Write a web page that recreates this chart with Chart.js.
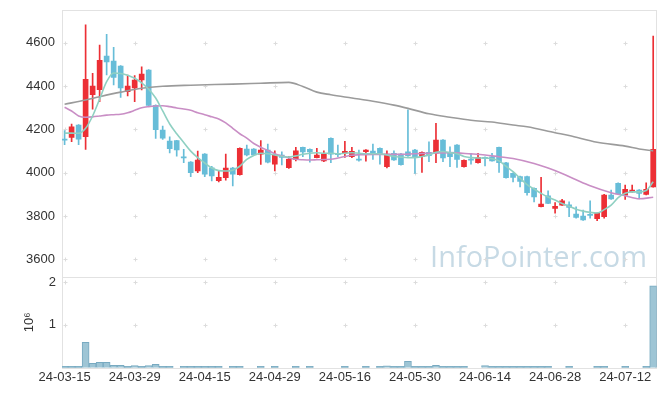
<!DOCTYPE html>
<html>
<head>
<meta charset="utf-8">
<script src="https://cdn.jsdelivr.net/npm/chart.js@4.4.1/dist/chart.umd.min.js"></script>
<style>
  html, body { margin: 0; padding: 0; background: #fff; }
  #wrap { position: relative; width: 665px; height: 396px; }
  #wrap canvas { position: absolute; left: 0; top: 0; }
</style>
</head>
<body>
<div id="wrap">
  <canvas id="price" width="665" height="396"></canvas>
  <canvas id="volume" width="665" height="396"></canvas>
</div>
<script>
// trading days, one candle each
const dates = [
  "24-03-15","24-03-18","24-03-19","24-03-20","24-03-21","24-03-22","24-03-25","24-03-26","24-03-27","24-03-28",
  "24-03-29","24-04-01","24-04-02","24-04-03","24-04-04","24-04-05","24-04-08","24-04-09","24-04-11","24-04-12",
  "24-04-15","24-04-16","24-04-17","24-04-18","24-04-19","24-04-22","24-04-23","24-04-24","24-04-25","24-04-26",
  "24-04-29","24-04-30","24-05-02","24-05-03","24-05-07","24-05-08","24-05-09","24-05-10","24-05-13","24-05-14",
  "24-05-16","24-05-17","24-05-20","24-05-21","24-05-22","24-05-23","24-05-24","24-05-27","24-05-28","24-05-29",
  "24-05-30","24-05-31","24-06-03","24-06-04","24-06-05","24-06-07","24-06-10","24-06-11","24-06-12","24-06-13",
  "24-06-14","24-06-17","24-06-18","24-06-19","24-06-20","24-06-21","24-06-24","24-06-25","24-06-26","24-06-27",
  "24-06-28","24-07-01","24-07-02","24-07-03","24-07-04","24-07-05","24-07-08","24-07-09","24-07-10","24-07-11",
  "24-07-12","24-07-15","24-07-16","24-07-17","24-07-18"
];

const openP = [
  4155,4163,4220,4166,4360,4383,4538,4515,4492,4374, 4392,4428,4474,4311,4197,4146,4148,4073,4049,4009,
  4086,4023,3963,3977,4022,3991,4109,4109,4086,4105, 4040,4082,4023,4062,4117,4108,4070,4055,4159,4090,
  4090,4074,4062,4097,4100,4113,4028,4090,4086,4097, 4105,4074,4094,4090,4151,4094,4128,4028,4062,4046,
  4070,4074,4117,4046,3997,3982,3982,3928,3843,3893, 3836,3851,3852,3809,3800,3808,3788,3797,3897,3951,
  3897,3912,3920,3900,3935
];
const highP = [
  4195,4225,4222,4682,4459,4589,4639,4579,4495,4451, 4448,4489,4476,4313,4215,4166,4150,4108,4052,4100,
  4088,4030,4008,4086,4025,4115,4128,4111,4148,4132, 4101,4097,4075,4117,4119,4110,4113,4101,4161,4128,
  4145,4117,4105,4107,4132,4115,4101,4101,4090,4290, 4108,4097,4143,4228,4153,4120,4130,4060,4090,4090,
  4074,4090,4119,4048,4000,3985,3985,3930,3979,3917, 3862,3877,3866,3843,3828,3870,3815,3900,3920,3953,
  3943,3943,3922,3954,4631
];
const lowP = [
  4130,4143,4130,4108,4293,4328,4451,4405,4348,4354, 4328,4382,4309,4159,4154,4092,4077,4046,3982,4000,
  3982,3962,3958,3966,3939,3989,4078,4080,4039,4045, 4009,4036,4020,4055,4074,4049,4068,4051,4046,4074,
  4071,4070,4053,4054,4062,4040,4022,4057,4035,4075, 3997,4002,4051,4046,4051,4028,4025,4026,4040,4044,
  4031,4053,4002,3975,3958,3935,3897,3866,3842,3857, 3813,3849,3797,3790,3780,3790,3779,3790,3877,3900,
  3877,3910,3879,3898,3933
];
const closeP = [
  4150,4212,4155,4431,4400,4519,4512,4440,4391,4400, 4428,4455,4311,4199,4160,4111,4105,4069,4000,4059,
  3994,3985,3979,4022,3993,4113,4082,4082,4105,4049, 4082,4071,4062,4101,4096,4096,4082,4086,4086,4083,
  4099,4099,4058,4105,4088,4085,4086,4059,4037,4079, 4074,4094,4079,4151,4069,4074,4062,4057,4058,4071,
  4066,4055,4046,3977,3979,3960,3908,3889,3856,3859, 3845,3870,3840,3794,3782,3803,3813,3897,3879,3902,
  3923,3920,3905,3923,4108
];
const volume = [
  30000,30000,30000,595000,100000,127000,127000,55000,55000,30000, 50000,30000,50000,80000,30000,30000,0,30000,30000,30000,
  30000,30000,30000,0,30000,30000,0,0,30000,0, 30000,0,0,30000,0,30000,0,0,0,0,
  30000,0,0,30000,0,30000,45000,30000,30000,150000, 30000,30000,30000,55000,30000,30000,30000,30000,0,0,
  50000,30000,30000,30000,30000,30000,30000,30000,30000,30000, 0,0,30000,0,0,0,30000,30000,0,0,
  30000,0,0,30000,1913000
];

// moving averages: [index, value]
const ma5 = [
  [0,4183],[1,4183],[2,4182],[3,4205],[4,4262],[5,4340],[6,4420],[7,4460],[8,4458],[9,4450],
  [10,4436],[11,4415],[12,4385],[13,4345],[14,4285],[15,4225],[16,4180],[17,4140],[18,4100],[19,4070],
  [20,4045],[21,4022],[22,4010],[23,4008],[24,4012],[25,4030],[26,4062],[27,4080],[28,4090],[29,4088],
  [30,4082],[31,4076],[32,4072],[33,4078],[34,4085],[35,4090],[36,4092],[37,4090],[38,4090],[39,4088],
  [40,4090],[41,4092],[42,4090],[43,4088],[44,4088],[45,4088],[46,4082],[47,4075],[48,4072],[49,4070],
  [50,4070],[51,4075],[52,4082],[53,4095],[54,4098],[55,4093],[56,4088],[57,4075],[58,4070],[59,4068],
  [60,4068],[61,4065],[62,4055],[63,4030],[64,4005],[65,3975],[66,3945],[67,3925],[68,3905],[69,3888],
  [70,3874],[71,3858],[72,3845],[73,3832],[74,3823],[75,3817],[76,3814],[77,3830],[78,3851],[79,3885],
  [80,3905],[81,3912],[82,3912],[83,3918],[84,3958]
];
const ma20 = [
  [0,4302],[1,4285],[2,4262],[3,4256],[4,4258],[5,4262],[6,4266],[7,4268],[8,4270],[9,4277],
  [10,4288],[11,4300],[12,4305],[13,4308],[14,4309],[15,4305],[16,4299],[17,4294],[18,4288],[19,4277],
  [20,4268],[21,4258],[22,4248],[23,4230],[24,4205],[25,4180],[26,4160],[27,4135],[28,4118],[29,4103],
  [30,4088],[31,4078],[32,4068],[33,4062],[34,4060],[35,4059],[36,4060],[37,4061],[38,4062],[39,4068],
  [40,4075],[41,4081],[42,4083],[44,4085],[48,4085],[50,4088],[52,4090],[55,4093],[58,4087],[60,4082],
  [62,4074],[64,4066],[67,4043],[69,4022],[71,3997],[73,3968],[75,3940],[78,3908],[80,3894],[82,3880],
  [84,3887]
];
const ma60 = [
  [0,4316],[3,4336],[5,4351],[8,4372],[11,4390],[14,4399],[18,4404],[24,4409],[28,4413],[32,4417],
  [34,4398],[36,4372],[38,4360],[41,4345],[44,4330],[47,4312],[49,4297],[52,4272],[55,4256],[58,4242],
  [61,4234],[64,4220],[66,4212],[70,4185],[72,4172],[76,4141],[80,4123],[82,4110],[84,4101]
];

const priceTicks = [3600, 3800, 4000, 4200, 4400, 4600];
const volTicks = [1000000, 2000000];
const xTicks = [0, 10, 20, 30, 40, 50, 60, 70, 80];

const RED = "#ec2f35";
const BLUE = "#67bdd8";
const FONT = { family: "'Liberation Sans', Arial, sans-serif", size: 13 };

const idx = dates.map((d, i) => i);
const isUp = idx.map((i) => closeP[i] >= openP[i]);
const candleColors = isUp.map((u) => (u ? RED : BLUE));

// frame, "+" marks at tick crossings, watermark
const framePlugin = {
  id: "frame",
  beforeDatasetsDraw(chart, args, opts) {
    const { ctx, chartArea: a, scales } = chart;
    ctx.save();
    if (opts.mark) {
      ctx.font = "32px 'Open Sans', sans-serif";
      const w = ctx.measureText(opts.mark).width;
      const size = 32 * 217 / w;
      ctx.font = size + "px 'Open Sans', sans-serif";
      ctx.fillStyle = "#c7dae5";
      ctx.textAlign = "right";
      ctx.textBaseline = "alphabetic";
      ctx.fillText(opts.mark, 647, 267);
    }
    ctx.strokeStyle = "#dcdcdc";
    ctx.lineWidth = 1;
    for (const xv of xTicks) {
      const px = Math.round(scales.x.getPixelForValue(xv)) + 0.5;
      for (const yv of opts.yTicks) {
        const py = Math.round(scales.y.getPixelForValue(yv)) + 0.5;
        ctx.beginPath();
        ctx.moveTo(px - 2, py); ctx.lineTo(px + 2, py);
        ctx.moveTo(px, py - 2); ctx.lineTo(px, py + 2);
        ctx.stroke();
      }
    }
    ctx.strokeStyle = "#e2e2e2";
    ctx.strokeRect(Math.round(a.left) + 0.5, Math.round(a.top) + 0.5,
      Math.round(a.width) - 1, Math.round(a.height));
    ctx.restore();
  },
};

const noPad = (s) => {
  s.paddingTop = 0; s.paddingBottom = 0; s.paddingLeft = 0; s.paddingRight = 0;
};

const xBase = {
  type: "linear",
  min: -0.37,
  max: 84.5,
  offset: false,
  grid: { display: false, offset: false, drawTicks: false },
  border: { display: false },
};

new Chart(document.getElementById("price"), {
  type: "bar",
  data: {
    datasets: [
      {
        type: "line", data: ma5.map((p) => ({ x: p[0], y: p[1] })),
        borderColor: "#8fd0c2", borderWidth: 1.6, pointRadius: 0,
        cubicInterpolationMode: "monotone", order: 0,
      },
      {
        type: "line", data: ma20.map((p) => ({ x: p[0], y: p[1] })),
        borderColor: "#c98ec5", borderWidth: 1.6, pointRadius: 0,
        cubicInterpolationMode: "monotone", order: 0,
      },
      {
        type: "line", data: ma60.map((p) => ({ x: p[0], y: p[1] })),
        borderColor: "#9b9b9b", borderWidth: 1.6, pointRadius: 0,
        cubicInterpolationMode: "monotone", order: 0,
      },
      {
        data: idx.map((i) => ({ x: i, y: [openP[i], closeP[i]] })),
        backgroundColor: candleColors, barThickness: 5, minBarLength: 1,
        grouped: false, order: 1,
      },
      {
        data: idx.map((i) => ({ x: i, y: [lowP[i], highP[i]] })),
        backgroundColor: candleColors, barThickness: 1, grouped: false, order: 2,
      },
    ],
  },
  options: {
    responsive: false,
    animation: false,
    events: [],
    layout: { padding: { top: 10, right: 8.3, bottom: 119, left: 0 } },
    plugins: {
      legend: { display: false },
      tooltip: { enabled: false },
      frame: { yTicks: priceTicks, mark: "InfoPointer.com" },
    },
    scales: {
      x: Object.assign({}, xBase, {
        ticks: { display: false },
        afterFit: (s) => { s.height = 0; noPad(s); },
      }),
      y: {
        min: 3519, max: 4751,
        grid: { display: false, drawTicks: false },
        border: { display: false },
        afterBuildTicks: (s) => { s.ticks = priceTicks.map((v) => ({ value: v })); },
        afterFit: (s) => { s.width = 62; noPad(s); },
        ticks: { color: "#333", font: FONT, padding: 7, callback: (v) => String(v) },
      },
    },
  },
  plugins: [framePlugin],
});

new Chart(document.getElementById("volume"), {
  type: "bar",
  data: {
    datasets: [
      {
        data: idx.map((i) => ({ x: i, y: volume[i] })),
        backgroundColor: "#9ec5d5", borderColor: "#78aac1", borderWidth: 1,
        barThickness: 7, grouped: false,
      },
    ],
  },
  options: {
    responsive: false,
    animation: false,
    events: [],
    layout: { padding: { top: 277, right: 8.3, bottom: 0, left: 0 } },
    plugins: {
      legend: { display: false },
      tooltip: { enabled: false },
      frame: { yTicks: volTicks },
    },
    scales: {
      x: Object.assign({}, xBase, {
        afterBuildTicks: (s) => { s.ticks = xTicks.map((v) => ({ value: v })); },
        afterFit: (s) => { s.height = 28.3; noPad(s); },
        ticks: {
          color: "#333", font: FONT, padding: 2, maxRotation: 0, autoSkip: false,
          callback: (v) => dates[v],
        },
      }),
      y: {
        min: 0, max: 2117000,
        grid: { display: false, drawTicks: false },
        border: { display: false },
        afterBuildTicks: (s) => { s.ticks = volTicks.map((v) => ({ value: v })); },
        afterFit: (s) => { s.width = 62; noPad(s); },
        ticks: { color: "#333", font: FONT, padding: 6, callback: (v) => v / 1000000 },
        title: { display: true, text: "10⁶", color: "#333", font: FONT, padding: { top: 22, bottom: 0 } },
      },
    },
  },
  plugins: [framePlugin],
});
</script>
</body>
</html>
